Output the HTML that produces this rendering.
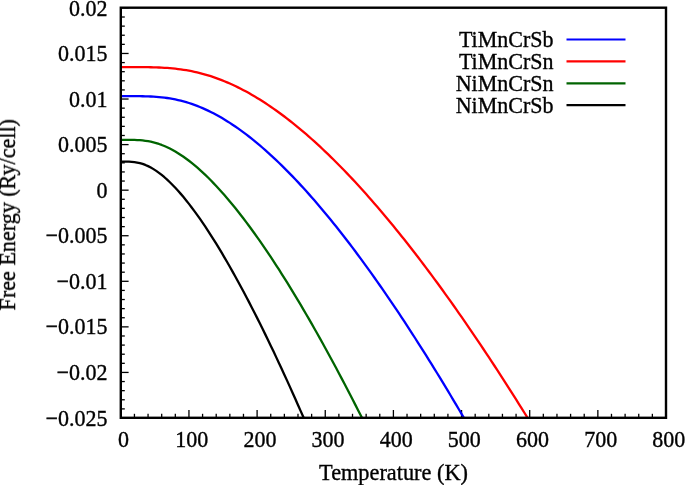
<!DOCTYPE html>
<html><head><meta charset="utf-8"><style>
html,body{margin:0;padding:0;background:#fff;}
svg{display:block;}
text{font-family:"Liberation Serif",serif;font-size:22.3px;fill:#000;stroke:#000;stroke-width:0.35px;}
</style></head><body>
<svg width="685" height="485" viewBox="0 0 685 485">
<rect width="685" height="485" fill="#fff"/>
<g stroke="#000" stroke-width="1.3"><line x1="120.80" y1="417.8" x2="120.80" y2="410.0"/><line x1="134.43" y1="417.8" x2="134.43" y2="413.8"/><line x1="148.06" y1="417.8" x2="148.06" y2="413.8"/><line x1="161.69" y1="417.8" x2="161.69" y2="413.8"/><line x1="175.32" y1="417.8" x2="175.32" y2="413.8"/><line x1="188.95" y1="417.8" x2="188.95" y2="410.0"/><line x1="202.58" y1="417.8" x2="202.58" y2="413.8"/><line x1="216.21" y1="417.8" x2="216.21" y2="413.8"/><line x1="229.84" y1="417.8" x2="229.84" y2="413.8"/><line x1="243.47" y1="417.8" x2="243.47" y2="413.8"/><line x1="257.10" y1="417.8" x2="257.10" y2="410.0"/><line x1="270.73" y1="417.8" x2="270.73" y2="413.8"/><line x1="284.36" y1="417.8" x2="284.36" y2="413.8"/><line x1="297.99" y1="417.8" x2="297.99" y2="413.8"/><line x1="311.62" y1="417.8" x2="311.62" y2="413.8"/><line x1="325.25" y1="417.8" x2="325.25" y2="410.0"/><line x1="338.88" y1="417.8" x2="338.88" y2="413.8"/><line x1="352.51" y1="417.8" x2="352.51" y2="413.8"/><line x1="366.14" y1="417.8" x2="366.14" y2="413.8"/><line x1="379.77" y1="417.8" x2="379.77" y2="413.8"/><line x1="393.40" y1="417.8" x2="393.40" y2="410.0"/><line x1="407.03" y1="417.8" x2="407.03" y2="413.8"/><line x1="420.66" y1="417.8" x2="420.66" y2="413.8"/><line x1="434.29" y1="417.8" x2="434.29" y2="413.8"/><line x1="447.92" y1="417.8" x2="447.92" y2="413.8"/><line x1="461.55" y1="417.8" x2="461.55" y2="410.0"/><line x1="475.18" y1="417.8" x2="475.18" y2="413.8"/><line x1="488.81" y1="417.8" x2="488.81" y2="413.8"/><line x1="502.44" y1="417.8" x2="502.44" y2="413.8"/><line x1="516.07" y1="417.8" x2="516.07" y2="413.8"/><line x1="529.70" y1="417.8" x2="529.70" y2="410.0"/><line x1="543.33" y1="417.8" x2="543.33" y2="413.8"/><line x1="556.96" y1="417.8" x2="556.96" y2="413.8"/><line x1="570.59" y1="417.8" x2="570.59" y2="413.8"/><line x1="584.22" y1="417.8" x2="584.22" y2="413.8"/><line x1="597.85" y1="417.8" x2="597.85" y2="410.0"/><line x1="611.48" y1="417.8" x2="611.48" y2="413.8"/><line x1="625.11" y1="417.8" x2="625.11" y2="413.8"/><line x1="638.74" y1="417.8" x2="638.74" y2="413.8"/><line x1="652.37" y1="417.8" x2="652.37" y2="413.8"/><line x1="666.00" y1="417.8" x2="666.00" y2="410.0"/><line x1="120.8" y1="7.70" x2="128.6" y2="7.70"/><line x1="120.8" y1="17.01" x2="124.8" y2="17.01"/><line x1="120.8" y1="26.13" x2="124.8" y2="26.13"/><line x1="120.8" y1="35.24" x2="124.8" y2="35.24"/><line x1="120.8" y1="44.35" x2="124.8" y2="44.35"/><line x1="120.8" y1="53.47" x2="128.6" y2="53.47"/><line x1="120.8" y1="62.58" x2="124.8" y2="62.58"/><line x1="120.8" y1="71.69" x2="124.8" y2="71.69"/><line x1="120.8" y1="80.81" x2="124.8" y2="80.81"/><line x1="120.8" y1="89.92" x2="124.8" y2="89.92"/><line x1="120.8" y1="99.03" x2="128.6" y2="99.03"/><line x1="120.8" y1="108.15" x2="124.8" y2="108.15"/><line x1="120.8" y1="117.26" x2="124.8" y2="117.26"/><line x1="120.8" y1="126.37" x2="124.8" y2="126.37"/><line x1="120.8" y1="135.49" x2="124.8" y2="135.49"/><line x1="120.8" y1="144.60" x2="128.6" y2="144.60"/><line x1="120.8" y1="153.71" x2="124.8" y2="153.71"/><line x1="120.8" y1="162.83" x2="124.8" y2="162.83"/><line x1="120.8" y1="171.94" x2="124.8" y2="171.94"/><line x1="120.8" y1="181.05" x2="124.8" y2="181.05"/><line x1="120.8" y1="190.17" x2="128.6" y2="190.17"/><line x1="120.8" y1="199.28" x2="124.8" y2="199.28"/><line x1="120.8" y1="208.39" x2="124.8" y2="208.39"/><line x1="120.8" y1="217.51" x2="124.8" y2="217.51"/><line x1="120.8" y1="226.62" x2="124.8" y2="226.62"/><line x1="120.8" y1="235.73" x2="128.6" y2="235.73"/><line x1="120.8" y1="244.85" x2="124.8" y2="244.85"/><line x1="120.8" y1="253.96" x2="124.8" y2="253.96"/><line x1="120.8" y1="263.07" x2="124.8" y2="263.07"/><line x1="120.8" y1="272.19" x2="124.8" y2="272.19"/><line x1="120.8" y1="281.30" x2="128.6" y2="281.30"/><line x1="120.8" y1="290.41" x2="124.8" y2="290.41"/><line x1="120.8" y1="299.53" x2="124.8" y2="299.53"/><line x1="120.8" y1="308.64" x2="124.8" y2="308.64"/><line x1="120.8" y1="317.75" x2="124.8" y2="317.75"/><line x1="120.8" y1="326.87" x2="128.6" y2="326.87"/><line x1="120.8" y1="335.98" x2="124.8" y2="335.98"/><line x1="120.8" y1="345.09" x2="124.8" y2="345.09"/><line x1="120.8" y1="354.21" x2="124.8" y2="354.21"/><line x1="120.8" y1="363.32" x2="124.8" y2="363.32"/><line x1="120.8" y1="372.43" x2="128.6" y2="372.43"/><line x1="120.8" y1="381.55" x2="124.8" y2="381.55"/><line x1="120.8" y1="390.66" x2="124.8" y2="390.66"/><line x1="120.8" y1="399.77" x2="124.8" y2="399.77"/><line x1="120.8" y1="408.89" x2="124.8" y2="408.89"/><line x1="120.8" y1="417.80" x2="128.6" y2="417.80"/></g>
<path d="M120.80,96.17 L123.53,96.17 L126.25,96.17 L128.98,96.17 L131.70,96.17 L134.43,96.18 L137.16,96.20 L139.88,96.22 L142.61,96.27 L145.33,96.33 L148.06,96.41 L150.79,96.52 L153.51,96.66 L156.24,96.84 L158.96,97.06 L161.69,97.33 L164.42,97.64 L167.14,98.00 L169.87,98.42 L172.59,98.90 L175.32,99.43 L178.05,100.03 L180.77,100.68 L183.50,101.40 L186.22,102.17 L188.95,103.01 L191.68,103.91 L194.40,104.88 L197.13,105.90 L199.85,106.99 L202.58,108.14 L205.31,109.35 L208.03,110.62 L210.76,111.96 L213.48,113.35 L216.21,114.80 L218.94,116.30 L221.66,117.87 L224.39,119.49 L227.11,121.17 L229.84,122.90 L232.57,124.69 L235.29,126.53 L238.02,128.43 L240.74,130.37 L243.47,132.37 L246.20,134.42 L248.92,136.52 L251.65,138.67 L254.37,140.87 L257.10,143.11 L259.83,145.41 L262.55,147.75 L265.28,150.14 L268.00,152.57 L270.73,155.05 L273.46,157.57 L276.18,160.13 L278.91,162.74 L281.63,165.39 L284.36,168.08 L287.09,170.82 L289.81,173.60 L292.54,176.41 L295.26,179.27 L297.99,182.16 L300.72,185.10 L303.44,188.07 L306.17,191.08 L308.89,194.13 L311.62,197.21 L314.35,200.34 L317.07,203.49 L319.80,206.69 L322.52,209.92 L325.25,213.18 L327.98,216.48 L330.70,219.81 L333.43,223.18 L336.15,226.58 L338.88,230.01 L341.61,233.48 L344.33,236.98 L347.06,240.51 L349.78,244.07 L352.51,247.66 L355.24,251.28 L357.96,254.94 L360.69,258.62 L363.41,262.34 L366.14,266.08 L368.87,269.86 L371.59,273.66 L374.32,277.49 L377.04,281.35 L379.77,285.24 L382.50,289.16 L385.22,293.10 L387.95,297.07 L390.67,301.07 L393.40,305.10 L396.13,309.15 L398.85,313.23 L401.58,317.34 L404.30,321.47 L407.03,325.62 L409.76,329.81 L412.48,334.02 L415.21,338.25 L417.93,342.51 L420.66,346.79 L423.39,351.10 L426.11,355.43 L428.84,359.78 L431.56,364.16 L434.29,368.57 L437.02,372.99 L439.74,377.44 L442.47,381.92 L445.19,386.41 L447.92,390.93 L450.65,395.47 L453.37,400.04 L456.10,404.62 L458.82,409.23 L461.55,413.86 L463.86,417.80" fill="none" stroke="#0000ff" stroke-width="2.3" stroke-linejoin="round"/>
<path d="M120.80,67.09 L123.53,67.09 L126.25,67.09 L128.98,67.09 L131.70,67.10 L134.43,67.10 L137.16,67.11 L139.88,67.12 L142.61,67.14 L145.33,67.16 L148.06,67.20 L150.79,67.25 L153.51,67.31 L156.24,67.40 L158.96,67.50 L161.69,67.62 L164.42,67.78 L167.14,67.96 L169.87,68.17 L172.59,68.42 L175.32,68.70 L178.05,69.02 L180.77,69.37 L183.50,69.77 L186.22,70.21 L188.95,70.70 L191.68,71.23 L194.40,71.80 L197.13,72.42 L199.85,73.08 L202.58,73.80 L205.31,74.56 L208.03,75.36 L210.76,76.22 L213.48,77.12 L216.21,78.07 L218.94,79.07 L221.66,80.11 L224.39,81.20 L227.11,82.34 L229.84,83.53 L232.57,84.76 L235.29,86.04 L238.02,87.36 L240.74,88.73 L243.47,90.15 L246.20,91.61 L248.92,93.11 L251.65,94.66 L254.37,96.25 L257.10,97.89 L259.83,99.56 L262.55,101.28 L265.28,103.05 L268.00,104.85 L270.73,106.69 L273.46,108.58 L276.18,110.51 L278.91,112.47 L281.63,114.48 L284.36,116.52 L287.09,118.60 L289.81,120.72 L292.54,122.88 L295.26,125.08 L297.99,127.31 L300.72,129.58 L303.44,131.88 L306.17,134.22 L308.89,136.60 L311.62,139.01 L314.35,141.46 L317.07,143.94 L319.80,146.45 L322.52,149.00 L325.25,151.58 L327.98,154.20 L330.70,156.85 L333.43,159.53 L336.15,162.24 L338.88,164.98 L341.61,167.75 L344.33,170.56 L347.06,173.40 L349.78,176.26 L352.51,179.16 L355.24,182.09 L357.96,185.05 L360.69,188.03 L363.41,191.05 L366.14,194.09 L368.87,197.16 L371.59,200.26 L374.32,203.39 L377.04,206.55 L379.77,209.73 L382.50,212.94 L385.22,216.18 L387.95,219.45 L390.67,222.74 L393.40,226.06 L396.13,229.40 L398.85,232.77 L401.58,236.17 L404.30,239.59 L407.03,243.03 L409.76,246.50 L412.48,250.00 L415.21,253.52 L417.93,257.06 L420.66,260.63 L423.39,264.23 L426.11,267.84 L428.84,271.48 L431.56,275.15 L434.29,278.84 L437.02,282.55 L439.74,286.28 L442.47,290.04 L445.19,293.81 L447.92,297.61 L450.65,301.44 L453.37,305.28 L456.10,309.15 L458.82,313.04 L461.55,316.95 L464.28,320.88 L467.00,324.83 L469.73,328.81 L472.45,332.80 L475.18,336.82 L477.91,340.86 L480.63,344.91 L483.36,348.99 L486.08,353.09 L488.81,357.20 L491.54,361.34 L494.26,365.50 L496.99,369.68 L499.71,373.87 L502.44,378.09 L505.17,382.32 L507.89,386.58 L510.62,390.85 L513.34,395.14 L516.07,399.46 L518.80,403.79 L521.52,408.13 L524.25,412.50 L526.97,416.89 L527.54,417.80" fill="none" stroke="#ff0000" stroke-width="2.3" stroke-linejoin="round"/>
<path d="M120.80,139.87 L123.53,139.87 L126.25,139.87 L128.98,139.88 L131.70,139.91 L134.43,139.96 L137.16,140.06 L139.88,140.22 L142.61,140.46 L145.33,140.78 L148.06,141.20 L150.79,141.72 L153.51,142.36 L156.24,143.11 L158.96,143.97 L161.69,144.95 L164.42,146.05 L167.14,147.25 L169.87,148.57 L172.59,150.01 L175.32,151.54 L178.05,153.19 L180.77,154.94 L183.50,156.78 L186.22,158.73 L188.95,160.77 L191.68,162.91 L194.40,165.13 L197.13,167.45 L199.85,169.85 L202.58,172.34 L205.31,174.90 L208.03,177.55 L210.76,180.28 L213.48,183.08 L216.21,185.96 L218.94,188.91 L221.66,191.93 L224.39,195.02 L227.11,198.18 L229.84,201.41 L232.57,204.70 L235.29,208.05 L238.02,211.47 L240.74,214.95 L243.47,218.49 L246.20,222.09 L248.92,225.75 L251.65,229.46 L254.37,233.23 L257.10,237.05 L259.83,240.93 L262.55,244.86 L265.28,248.84 L268.00,252.87 L270.73,256.95 L273.46,261.08 L276.18,265.26 L278.91,269.49 L281.63,273.76 L284.36,278.08 L287.09,282.45 L289.81,286.86 L292.54,291.31 L295.26,295.81 L297.99,300.35 L300.72,304.93 L303.44,309.56 L306.17,314.22 L308.89,318.93 L311.62,323.67 L314.35,328.46 L317.07,333.28 L319.80,338.14 L322.52,343.04 L325.25,347.97 L327.98,352.95 L330.70,357.96 L333.43,363.00 L336.15,368.08 L338.88,373.20 L341.61,378.35 L344.33,383.53 L347.06,388.75 L349.78,394.00 L352.51,399.28 L355.24,404.60 L357.96,409.94 L360.69,415.32 L361.94,417.80" fill="none" stroke="#006400" stroke-width="2.3" stroke-linejoin="round"/>
<path d="M120.80,161.64 L123.53,161.64 L126.25,161.66 L128.98,161.71 L131.70,161.84 L134.43,162.09 L137.16,162.52 L139.88,163.12 L142.61,163.93 L145.33,164.94 L148.06,166.14 L150.79,167.54 L153.51,169.13 L156.24,170.91 L158.96,172.85 L161.69,174.96 L164.42,177.24 L167.14,179.66 L169.87,182.24 L172.59,184.95 L175.32,187.80 L178.05,190.77 L180.77,193.87 L183.50,197.09 L186.22,200.43 L188.95,203.88 L191.68,207.43 L194.40,211.09 L197.13,214.85 L199.85,218.70 L202.58,222.65 L205.31,226.69 L208.03,230.82 L210.76,235.03 L213.48,239.33 L216.21,243.71 L218.94,248.17 L221.66,252.70 L224.39,257.31 L227.11,262.00 L229.84,266.75 L232.57,271.57 L235.29,276.47 L238.02,281.43 L240.74,286.45 L243.47,291.54 L246.20,296.69 L248.92,301.90 L251.65,307.17 L254.37,312.50 L257.10,317.89 L259.83,323.33 L262.55,328.83 L265.28,334.38 L268.00,339.99 L270.73,345.65 L273.46,351.36 L276.18,357.12 L278.91,362.92 L281.63,368.78 L284.36,374.69 L287.09,380.64 L289.81,386.64 L292.54,392.69 L295.26,398.78 L297.99,404.91 L300.72,411.09 L303.44,417.31 L303.65,417.80" fill="none" stroke="#000000" stroke-width="2.3" stroke-linejoin="round"/>

<rect x="120.8" y="7.7" width="545.2" height="410.1" fill="none" stroke="#000" stroke-width="2.4"/>
<g style="will-change:opacity;opacity:0.999">
<text transform="translate(123.60,447.40) scale(1,1.05)" text-anchor="middle" style="font-size:22.0px">0</text><text transform="translate(191.75,447.40) scale(1,1.05)" text-anchor="middle" style="font-size:22.0px">100</text><text transform="translate(259.90,447.40) scale(1,1.05)" text-anchor="middle" style="font-size:22.0px">200</text><text transform="translate(328.05,447.40) scale(1,1.05)" text-anchor="middle" style="font-size:22.0px">300</text><text transform="translate(396.20,447.40) scale(1,1.05)" text-anchor="middle" style="font-size:22.0px">400</text><text transform="translate(464.35,447.40) scale(1,1.05)" text-anchor="middle" style="font-size:22.0px">500</text><text transform="translate(532.50,447.40) scale(1,1.05)" text-anchor="middle" style="font-size:22.0px">600</text><text transform="translate(600.65,447.40) scale(1,1.05)" text-anchor="middle" style="font-size:22.0px">700</text><text transform="translate(668.80,447.40) scale(1,1.05)" text-anchor="middle" style="font-size:22.0px">800</text>
<text transform="translate(107.50,15.50) scale(1,1.05)" text-anchor="end" style="font-size:22.0px">0.02</text><text transform="translate(107.50,61.07) scale(1,1.05)" text-anchor="end" style="font-size:22.0px">0.015</text><text transform="translate(107.50,106.63) scale(1,1.05)" text-anchor="end" style="font-size:22.0px">0.01</text><text transform="translate(107.50,152.20) scale(1,1.05)" text-anchor="end" style="font-size:22.0px">0.005</text><text transform="translate(107.50,197.77) scale(1,1.05)" text-anchor="end" style="font-size:22.0px">0</text><text transform="translate(107.50,243.33) scale(1,1.05)" text-anchor="end" style="font-size:22.0px">−0.005</text><text transform="translate(107.50,288.90) scale(1,1.05)" text-anchor="end" style="font-size:22.0px">−0.01</text><text transform="translate(107.50,334.47) scale(1,1.05)" text-anchor="end" style="font-size:22.0px">−0.015</text><text transform="translate(107.50,380.03) scale(1,1.05)" text-anchor="end" style="font-size:22.0px">−0.02</text><text transform="translate(107.50,425.60) scale(1,1.05)" text-anchor="end" style="font-size:22.0px">−0.025</text>
<text transform="translate(553.50,46.60) scale(1,1.05)" text-anchor="end" style="font-size:22.0px">TiMnCrSb</text><line x1="566.5" y1="39.5" x2="625.5" y2="39.5" stroke="#0000ff" stroke-width="2.2"/><text transform="translate(553.50,68.73) scale(1,1.05)" text-anchor="end" style="font-size:22.0px">TiMnCrSn</text><line x1="566.5" y1="61.4" x2="625.5" y2="61.4" stroke="#ff0000" stroke-width="2.2"/><text transform="translate(553.50,90.86) scale(1,1.05)" text-anchor="end" style="font-size:22.0px">NiMnCrSn</text><line x1="566.5" y1="83.3" x2="625.5" y2="83.3" stroke="#006400" stroke-width="2.2"/><text transform="translate(553.50,112.99) scale(1,1.05)" text-anchor="end" style="font-size:22.0px">NiMnCrSb</text><line x1="566.5" y1="105.2" x2="625.5" y2="105.2" stroke="#000000" stroke-width="2.2"/>
<text transform="translate(393.50,480.40) scale(1,1.05)" text-anchor="middle">Temperature (K)</text>
<text transform="translate(15.00,214.70) rotate(-90) scale(1,1.05)" text-anchor="middle" style="font-size:22.1px">Free Energy (Ry/cell)</text>
</g>
</svg>
</body></html>
